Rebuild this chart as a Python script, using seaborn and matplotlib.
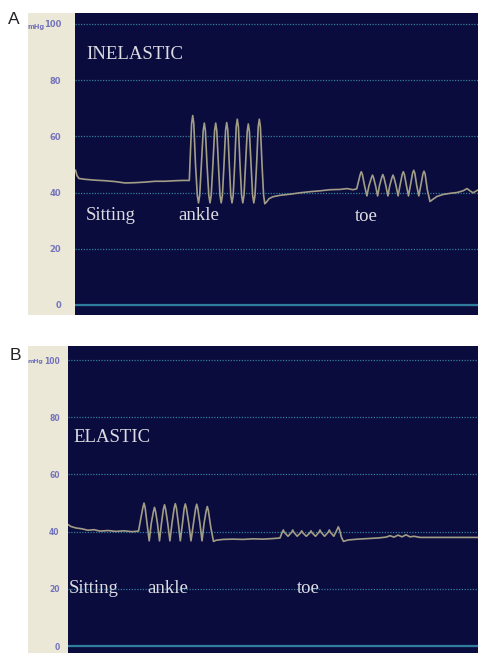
import matplotlib
matplotlib.use("Agg")
import matplotlib.pyplot as plt
import seaborn as sns
import pandas as pd

# ---------------- data ----------------
# Panel A (INELASTIC) : time (arbitrary units) and pressure (mmHg)
a_time = [0.5, 2, 4, 10, 20, 30, 40, 50, 60, 70, 80, 90, 100, 108, 114.3,
          115.5, 116.6, 117.7, 118.8, 120.5, 122.3, 123.5, 124.7, 126.4, 128.2, 129.3, 130.4,
          132.0, 133.8, 135.0, 136.2, 137.9, 139.6, 140.7, 141.8, 143.4, 145.0, 146.2, 147.4,
          149.0, 150.6, 151.7, 152.8, 154.3, 155.8, 157.0, 158.2, 159.7, 161.2, 162.3, 163.4,
          165.0, 166.6, 167.8, 169.0, 170.6, 172.2, 173.3, 174.4, 176.0, 177.6, 178.8, 180.0,
          181.6, 183.2, 184.3, 185.4, 187.0, 188.6, 189.8, 191.5, 194, 198,
          205, 215, 225, 235, 245, 255, 265, 272, 278, 281.7,
          283.5, 285.2, 286.3, 287.4, 289.5, 291.9, 294.0, 296.4, 297.5, 298.6, 300.5, 302.6,
          304.5, 306.7, 307.8, 308.9, 310.8, 312.9, 314.8, 316.9, 318.0, 319.1, 321.0, 323.1,
          325.0, 327.2, 328.3, 329.4, 331.4, 333.5, 335.4, 337.6, 338.7, 339.8, 341.7, 343.8,
          345.8, 347.9, 349.0, 350.1, 352.3, 355, 358, 362, 368, 375, 382, 388, 392, 395, 398, 403]
a_pressure = [48, 46, 45, 44.7, 44.4, 44.2, 43.9, 43.4, 43.5, 43.7, 44.0, 44.0, 44.2, 44.3, 44.3,
              55, 64.5, 67.4, 64.5, 50, 39, 36.3, 39, 50, 62, 64.7, 62,
              50, 39, 36.3, 39, 50, 62, 64.7, 62, 50, 39, 36.3, 39,
              50, 62.2, 64.9, 62.2, 50, 39, 36.3, 39, 50, 63.4, 66.1, 63.4,
              50, 39, 36.3, 39, 50, 61.7, 64.4, 61.7, 50, 39, 36.3, 39,
              50, 63.4, 66.1, 63.4, 50, 39, 36.0, 36.6, 37.8, 38.5,
              39.0, 39.4, 39.9, 40.3, 40.6, 41.0, 41.1, 41.4, 41.0, 41.3,
              44, 46.4, 47.4, 46.4, 42.5, 38.8, 42.5, 45.2, 46.2, 45.2, 42.5, 38.8,
              42.5, 45.4, 46.4, 45.4, 42.5, 38.8, 42.5, 45.2, 46.2, 45.2, 42.5, 38.8,
              42.5, 46.4, 47.4, 46.4, 42.5, 38.8, 42.5, 46.9, 47.9, 46.9, 42.5, 38.8,
              42.5, 46.6, 47.6, 46.6, 41, 36.8, 37.6, 38.6, 39.3, 39.7, 40.0, 40.6, 41.4, 40.6, 39.9, 40.9]

# Panel B (ELASTIC)
b_time = [0, 3, 8, 14, 20, 26, 32, 40, 48, 56, 64, 70.5,
          72.5, 74.9, 76.0, 77.1, 79.0, 81.2, 83.3, 85.4, 86.5, 87.6, 89.4, 91.5,
          93.5, 95.4, 96.5, 97.6, 99.7, 101.9, 104.0, 106.2, 107.3, 108.4, 110.3, 112.3,
          114.5, 116.2, 117.3, 118.4, 120.7, 123.0, 125.5, 127.6, 128.7, 129.8, 131.9, 134.0,
          136.1, 138.2, 139.3, 140.4, 142.8, 145.5, 148, 155, 165, 175, 185, 195, 205, 212,
          214.2, 215.3, 216.4, 220.0, 223.6, 224.7, 225.8, 229.2, 232.6, 233.7, 234.8, 238.3,
          241.9, 243.0, 244.1, 247.5, 250.9, 252.0, 253.1, 256.6, 260.2, 261.3, 262.4, 265.8,
          269.2, 270.3, 271.4, 273.5, 275.5, 280, 290, 300, 310, 318, 322, 326, 330, 334, 338,
          342, 346, 352, 370, 390, 410]
b_pressure = [42.5, 41.8, 41.3, 41.0, 40.5, 40.7, 40.2, 40.4, 40.1, 40.3, 40.0, 40.2,
              44, 48.5, 50.0, 48.5, 43, 36.8, 43, 47, 48.5, 47, 43, 36.8,
              43, 47.9, 49.4, 47.9, 43, 36.8, 43, 48.3, 49.8, 48.3, 43, 36.8,
              43, 48.2, 49.7, 48.2, 43, 36.8, 43, 48.1, 49.6, 48.1, 43, 36.8,
              43, 47.3, 48.8, 47.3, 41.5, 36.6, 37.0, 37.3, 37.4, 37.3, 37.5, 37.4, 37.6, 37.8,
              39.8, 40.6, 39.8, 38.4, 39.8, 40.6, 39.8, 38.4, 39.6, 40.3, 39.6, 38.4,
              39.6, 40.3, 39.6, 38.4, 39.8, 40.6, 39.8, 38.4, 39.8, 40.6, 39.8, 38.4,
              40.8, 41.7, 40.8, 38.0, 36.6, 37.1, 37.4, 37.6, 37.8, 38.1, 38.6, 38.1, 38.8, 38.2, 38.9,
              38.2, 38.4, 38.0, 38.0, 38.0, 38.0]

y_ticks = [0, 20, 40, 60, 80, 100]
a_labels = ["INELASTIC", "Sitting", "ankle", "toe"]
a_label_time = [11, 11, 103, 280]
a_label_p = [87.4, 30.2, 30.2, 29.9]
b_labels = ["ELASTIC", "Sitting", "ankle", "toe"]
b_label_time = [5, 0.5, 79, 229]
b_label_p = [71.4, 18.4, 18.4, 18.4]

# ---------------- style ----------------
sns.set_theme(style="white")
plt.rcParams['font.family'] = ['DejaVu Sans']

NAVY = "#0b0c3e"
BEIGE = "#ece8d7"
GRID = "#2f7c9c"
TRACE = "#a29d86"
TEXT = "#dcdce2"
TICK = "#7474bd"

W, H = 478, 653
fig = plt.figure(figsize=(W / 100, H / 100), dpi=100)
fig.patch.set_facecolor("white")


def px_rect(x0, y0, x1, y1):
    return [x0 / W, 1 - y1 / H, (x1 - x0) / W, (y1 - y0) / H]


def panel(rect_strip, rect_ax, t, p, ylim, xlim, labels, lt, lp, tick_fs, tick_pad):
    strip = fig.add_axes(px_rect(*rect_strip))
    strip.set_facecolor(BEIGE)
    strip.set_xticks([])
    strip.set_yticks([])
    for s in strip.spines.values():
        s.set_visible(False)

    ax = fig.add_axes(px_rect(*rect_ax))
    ax.set_facecolor(NAVY)
    df = pd.DataFrame({"time": t, "pressure": p})
    ax.set_yticks(y_ticks)
    ax.set_yticklabels([str(v) for v in y_ticks])
    ax.yaxis.grid(True, color=GRID, linestyle=(0, (1, 1.2)), linewidth=0.9)
    ax.xaxis.grid(False)
    ax.axhline(y_ticks[0], color=GRID, linewidth=1.6, zorder=1)
    sns.lineplot(data=df, x="time", y="pressure", ax=ax, sort=False, estimator=None,
                 color=TRACE, linewidth=1.2, zorder=3)
    for ln in ax.get_lines():
        ln.set_solid_joinstyle("round")
    ax.set_xlim(*xlim)
    ax.set_ylim(*ylim)
    ax.set_xticks([])
    ax.set_xlabel("")
    ax.set_ylabel("")
    ax.tick_params(axis="y", length=0, pad=tick_pad, labelsize=tick_fs, labelcolor=TICK)
    for lab in ax.get_yticklabels():
        lab.set_fontweight("bold")
    for s in ax.spines.values():
        s.set_visible(False)
    for txt, x, y in zip(labels, lt, lp):
        ax.text(x, y, txt, color=TEXT, fontsize=13.5, family="Liberation Serif",
                ha="left", va="baseline", zorder=4)
    return ax


axA = panel((28, 13, 75, 315), (75, 13, 478, 315), a_time, a_pressure,
            (-3.6, 103.9), (0, 403), a_labels, a_label_time, a_label_p, 6.0, 10)
axB = panel((28, 346, 68, 653), (68, 346, 478, 653), b_time, b_pressure,
            (-2.4, 104.9), (0, 410), b_labels, b_label_time, b_label_p, 5.5, 6)

fig.text(36 / W, 1 - 27 / H, "mHg", color=TICK, fontsize=4.8, fontweight="bold",
         ha="center", va="center")
fig.text(35 / W, 1 - 361 / H, "mHg", color=TICK, fontsize=4.4, fontweight="bold",
         ha="center", va="center")
fig.text(14 / W, 1 - 20 / H, "A", color="#222222", fontsize=12.5,
         family="Liberation Sans", ha="center", va="center")
fig.text(15 / W, 1 - 356 / H, "B", color="#222222", fontsize=12.5,
         family="Liberation Sans", ha="center", va="center")

fig.savefig("out.png", dpi=100)
